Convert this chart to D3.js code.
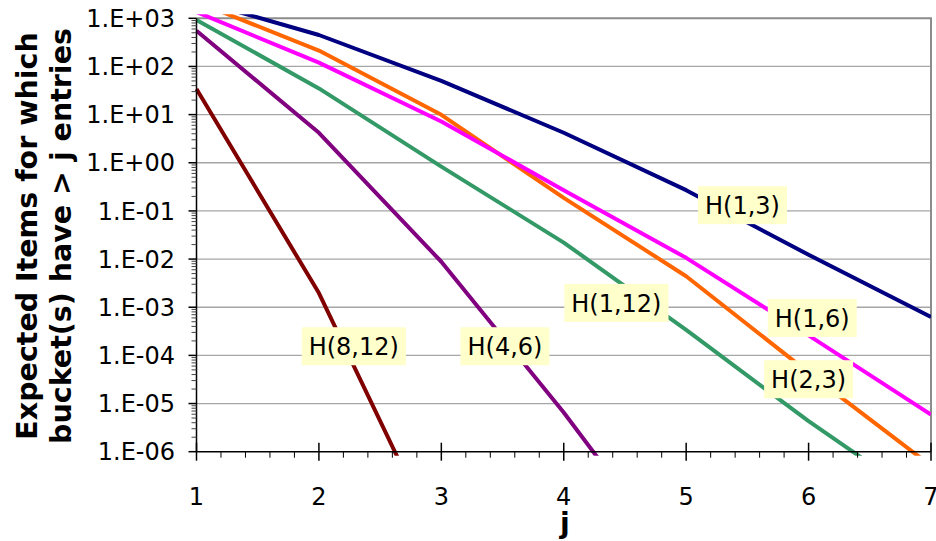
<!DOCTYPE html>
<html>
<head>
<meta charset="utf-8" />
<title>Expected items per bucket</title>
<script src="https://cdnjs.cloudflare.com/ajax/libs/d3/7.8.5/d3.min.js"></script>
<style>
	body { margin: 0; background: #ffffff; }
	svg { display: block; font-family: "DejaVu Sans", Verdana, sans-serif; }
	.grid line { stroke: #a6a6a6; stroke-width: 1.3px; }
	.tick-label { font-size: 24px; fill: #000; }
	.axis-title { font-size: 28.5px; font-weight: bold; fill: #000; }
	.callout text { font-size: 24px; fill: #000; }
</style>
</head>
<body>
<svg id="chart" width="936" height="541"></svg>
<script>
// values
const jValues = [1, 2, 3, 4, 5, 6, 7];
const seriesNames = ['H(1,3)', 'H(2,3)', 'H(1,6)', 'H(1,12)', 'H(4,6)', 'H(8,12)'];
const seriesColors = ['#000080', '#ff6600', '#ff00ff', '#339966', '#800080', '#800000'];
const h13 = [2400, 450, 50, 4.2, 0.27, 0.0123, 6.3e-4];
const h23 = [2200, 214, 9.9, 0.187, 4.4e-3, 4.4e-5, 5.1e-7];
const h16 = [1350, 120, 7.2, 0.27, 0.0106, 2.6e-4, 5.9e-6];
const h112 = [920, 35, 0.83, 0.022, 3.4e-4, 4.3e-6, 7.6e-8];
const h46 = [553, 4.2, 8.8e-3, 6.5e-6, 2.7e-9];
const h812 = [34, 1.97e-3, 9.6e-9];
const yTickValues = [1e3, 1e2, 1e1, 1e0, 1e-1, 1e-2, 1e-3, 1e-4, 1e-5, 1e-6];
const yTickLabels = ['1.E+03', '1.E+02', '1.E+01', '1.E+00', '1.E-01', '1.E-02', '1.E-03', '1.E-04', '1.E-05', '1.E-06'];
// callout boxes: name, j and value at the box centre
const labelNames = ['H(1,3)', 'H(1,12)', 'H(1,6)', 'H(2,3)', 'H(8,12)', 'H(4,6)'];
const labelJ = [5.46, 4.43, 6.03, 6.0, 2.285, 3.52];
const labelV = [0.132, 1.23e-3, 6.0e-4, 3.2e-5, 1.55e-4, 1.55e-4];

const allSeries = [h13, h23, h16, h112, h46, h812];

const svg = d3.select('#chart');
const plotLeft = 196.5, plotRight = 931, plotTop = 18.3, plotBottom = 451.7;

const x = d3.scaleLinear().domain([1, 7]).range([plotLeft, plotRight]);
const y = d3.scaleLog().domain([1e-6, 1e3]).range([plotBottom, plotTop]);

// gridlines
svg.append('g').attr('class', 'grid')
	.selectAll('line')
	.data(yTickValues.slice(1, -1))
	.enter().append('line')
	.attr('x1', plotLeft).attr('x2', plotRight)
	.attr('y1', d => y(d)).attr('y2', d => y(d));

// plot frame (top + right in grey)
svg.append('path')
	.attr('d', `M${plotLeft},${y(1e3)}H${plotRight}V${plotBottom}`)
	.attr('fill', 'none').attr('stroke', '#8c8c8c').attr('stroke-width', 2);

// lines, clipped to plot area
svg.append('clipPath').attr('id', 'plot-clip')
	.append('rect')
	.attr('x', plotLeft - 3).attr('y', plotTop - 4)
	.attr('width', plotRight - plotLeft + 3).attr('height', plotBottom - plotTop + 8);

const line = d3.line()
	.x((d, i) => x(jValues[i]))
	.y(d => y(d));

svg.append('g').attr('clip-path', 'url(#plot-clip)')
	.selectAll('path')
	.data(allSeries)
	.enter().append('path')
	.attr('d', line)
	.attr('fill', 'none')
	.attr('stroke', (d, i) => seriesColors[i])
	.attr('stroke-width', 4)
	.attr('stroke-linejoin', 'round');

// y axis: line, major + minor ticks
const yAxis = svg.append('g').attr('stroke', '#000').attr('stroke-width', 1.5);
yAxis.append('line').attr('x1', plotLeft).attr('x2', plotLeft).attr('y1', plotTop).attr('y2', plotBottom);
yAxis.selectAll('line.major')
	.data(yTickValues)
	.enter().append('line').attr('class', 'major')
	.attr('x1', plotLeft - 8).attr('x2', plotLeft)
	.attr('y1', d => y(d)).attr('y2', d => y(d));
const minor = [];
yTickValues.slice(1).forEach(v => { for (let k = 2; k <= 9; k++) minor.push(v * k); });
yAxis.selectAll('line.minor')
	.data(minor)
	.enter().append('line').attr('class', 'minor')
	.attr('x1', plotLeft - 5).attr('x2', plotLeft)
	.attr('y1', d => y(d)).attr('y2', d => y(d))
	.attr('stroke-width', 1).attr('stroke', '#444');

svg.append('g').selectAll('text')
	.data(yTickValues)
	.enter().append('text')
	.attr('class', 'tick-label')
	.attr('x', 175)
	.attr('y', d => y(d))
	.attr('dy', '0.36em')
	.attr('text-anchor', 'end')
	.text((d, i) => yTickLabels[i]);

// x axis
const xAxis = svg.append('g').attr('stroke', '#000').attr('stroke-width', 1.5);
xAxis.append('line').attr('x1', plotLeft).attr('x2', plotRight).attr('y1', plotBottom).attr('y2', plotBottom);
xAxis.selectAll('line.major')
	.data(jValues)
	.enter().append('line')
	.attr('x1', d => x(d)).attr('x2', d => x(d))
	.attr('y1', plotBottom - 9).attr('y2', plotBottom + 9);
xAxis.selectAll('line.minor')
	.data(d3.range(1, 7.01, 0.2).filter(v => Math.abs(v - Math.round(v)) > 0.01))
	.enter().append('line')
	.attr('x1', d => x(d)).attr('x2', d => x(d))
	.attr('y1', plotBottom).attr('y2', plotBottom + 6)
	.attr('stroke-width', 1);

svg.append('g').selectAll('text')
	.data(jValues)
	.enter().append('text')
	.attr('class', 'tick-label')
	.attr('x', d => x(d))
	.attr('y', 505)
	.attr('text-anchor', 'middle')
	.text(d => d);

// axis titles
svg.append('text').attr('class', 'axis-title')
	.attr('x', 565).attr('y', 533)
	.attr('text-anchor', 'middle')
	.text('j');

const yTitle = svg.append('text').attr('class', 'axis-title')
	.attr('transform', 'translate(37,236) rotate(-90)')
	.attr('text-anchor', 'middle');
yTitle.append('tspan').attr('x', 0).attr('y', 0).text('Expected Items for which');
yTitle.append('tspan').attr('x', 0).attr('y', 34).text('bucket(s) have > j entries');

// callouts
labelNames.forEach((name, i) => {
	const g = svg.append('g').attr('class', 'callout');
	const cx = x(labelJ[i]), cy = y(labelV[i]);
	const t = g.append('text')
		.attr('x', cx).attr('y', cy)
		.attr('dy', '0.36em')
		.attr('text-anchor', 'middle')
		.text(name);
	const b = t.node().getBBox();
	g.insert('rect', 'text')
		.attr('x', b.x - 7).attr('y', cy - 19)
		.attr('width', b.width + 14).attr('height', 38)
		.attr('fill', '#ffffcc');
});
</script>
</body>
</html>
